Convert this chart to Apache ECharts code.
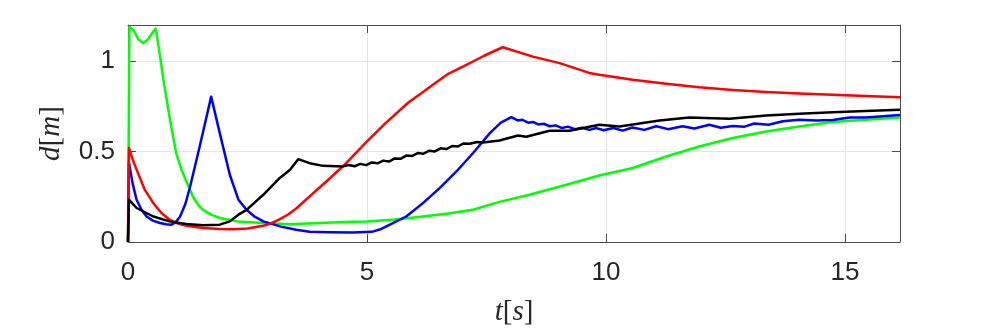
<!DOCTYPE html>
<html>
<head>
<meta charset="utf-8">
<script src="https://cdn.jsdelivr.net/npm/echarts@6/dist/echarts.min.js"></script>
<style>
  html, body { margin: 0; background: #fff; }
  #chart { width: 997px; height: 333px; }
</style>
</head>
<body>
<div id="chart"></div>
<script>
// axis ranges and tick labels
const xMax = 16.15;
const yMax = 1.2;
const xTicks = [0, 5, 10, 15];
const yTicks = [0, 0.5, 1];

// [t, d]
const green = [
  [0, 0], [0.03, 1.19], [0.12, 1.17], [0.22, 1.12], [0.32, 1.10], [0.42, 1.12],
  [0.52, 1.16], [0.58, 1.18], [0.67, 1.03], [0.74, 0.9], [0.88, 0.676], [1.01, 0.49],
  [1.12, 0.4], [1.23, 0.33], [1.36, 0.25], [1.47, 0.205], [1.57, 0.178], [1.75, 0.15],
  [1.92, 0.133], [2.29, 0.114], [2.82, 0.105],
  [3.39, 0.098], [3.9, 0.104], [4.5, 0.11], [5.0, 0.114], [5.6, 0.124], [6.17, 0.141],
  [6.7, 0.158], [7.22, 0.178], [7.77, 0.222], [8.4, 0.261], [9.17, 0.317], [9.86, 0.368],
  [10.56, 0.409], [11.26, 0.473], [11.95, 0.528], [12.65, 0.575], [13.35, 0.611],
  [14.04, 0.639], [14.74, 0.663], [15.43, 0.676], [16.15, 0.688]
];

const blue = [
  [0, 0], [0.02, 0.44], [0.1, 0.32], [0.18, 0.234], [0.28, 0.18], [0.39, 0.141], [0.52, 0.118],
  [0.67, 0.105], [0.8, 0.098], [0.91, 0.096], [1.0, 0.11],
  [1.09, 0.141], [1.2, 0.21], [1.3, 0.307], [1.5, 0.528], [1.74, 0.804], [1.92, 0.602], [2.13, 0.372],
  [2.31, 0.234], [2.48, 0.178], [2.65, 0.14], [2.83, 0.114], [3.2, 0.085], [3.52, 0.068], [3.8, 0.057],
  [4.22, 0.054], [4.7, 0.053], [5.1, 0.056], [5.3, 0.072], [5.48, 0.096], [5.82, 0.141],
  [6.17, 0.215], [6.52, 0.298], [6.87, 0.39], [7.22, 0.492], [7.57, 0.602], [7.8, 0.66],
  [8.02, 0.69], [8.15, 0.672], [8.25, 0.676], [8.37, 0.66], [8.47, 0.664], [8.58, 0.65],
  [8.7, 0.654], [8.82, 0.64], [8.95, 0.645], [9.08, 0.63], [9.2, 0.638], [9.35, 0.624],
  [9.5, 0.632], [9.65, 0.62], [9.8, 0.63], [9.95, 0.618], [10.15, 0.63], [10.35, 0.616],
  [10.55, 0.633], [10.8, 0.62], [11.05, 0.64], [11.3, 0.624], [11.6, 0.64], [11.85, 0.628],
  [12.16, 0.648], [12.4, 0.632], [12.65, 0.642], [12.9, 0.638], [13.1, 0.655], [13.4, 0.648],
  [13.7, 0.668], [14.04, 0.676], [14.4, 0.672], [14.74, 0.675], [15.1, 0.688], [15.43, 0.688],
  [15.8, 0.695], [16.15, 0.702]
];

const red = [
  [0, 0], [0.02, 0.52], [0.1, 0.455], [0.18, 0.40], [0.35, 0.29], [0.53, 0.215], [0.7, 0.16],
  [0.87, 0.123], [1.05, 0.102], [1.22, 0.09], [1.57, 0.077], [1.92, 0.072], [2.2, 0.07], [2.5, 0.075],
  [2.83, 0.09], [3.0, 0.104], [3.17, 0.125], [3.35, 0.152], [3.52, 0.185], [3.8, 0.252], [4.22, 0.351],
  [4.53, 0.427], [5.0, 0.556], [5.4, 0.66], [5.86, 0.77], [6.38, 0.869], [6.7, 0.93], [7.08, 0.98],
  [7.45, 1.03], [7.84, 1.077], [8.47, 1.025], [9.03, 0.989], [9.65, 0.935], [9.86, 0.925], [10.56, 0.897],
  [11.26, 0.875], [11.95, 0.856], [12.65, 0.841], [13.35, 0.83], [14.04, 0.821],
  [14.74, 0.814], [15.43, 0.807], [16.15, 0.801]
];

const black = [
  [0, 0], [0.02, 0.234], [0.18, 0.188], [0.53, 0.141], [0.87, 0.114], [1.22, 0.1],
  [1.57, 0.092], [1.92, 0.096], [2.13, 0.114], [2.31, 0.151], [2.48, 0.178], [2.83, 0.261],
  [3.17, 0.353], [3.39, 0.40], [3.56, 0.458], [3.8, 0.436], [4.08, 0.421], [4.5, 0.418],
  [4.62, 0.426], [4.74, 0.419], [4.86, 0.432], [4.98, 0.425], [5.1, 0.44], [5.22, 0.435],
  [5.34, 0.45], [5.46, 0.445], [5.58, 0.462], [5.7, 0.46], [5.82, 0.478], [5.94, 0.475],
  [6.06, 0.492], [6.18, 0.488], [6.3, 0.505], [6.42, 0.501], [6.54, 0.518], [6.66, 0.514],
  [6.78, 0.531], [6.9, 0.528], [7.02, 0.545], [7.15, 0.543], [7.3, 0.553], [7.43, 0.55],
  [7.6, 0.556], [7.77, 0.561], [8.16, 0.589], [8.33, 0.582], [8.82, 0.615], [9.24, 0.615],
  [9.86, 0.648], [10.28, 0.639], [11.12, 0.672], [11.74, 0.688], [12.58, 0.681],
  [13.35, 0.70], [14.04, 0.709], [14.74, 0.718], [15.43, 0.724], [16.15, 0.731]
];

const chart = echarts.init(document.getElementById('chart'));

const axisColor = '#4d4d4d';
const gridColor = '#e4e4e4';
const tickFont = { fontFamily: 'Liberation Sans, Arial, sans-serif', fontSize: 26, color: '#262626' };
const mathRich = {
  i: { fontFamily: 'Liberation Serif, serif', fontStyle: 'italic', fontSize: 29, color: '#262626' },
  n: { fontFamily: 'Liberation Serif, serif', fontSize: 29, color: '#262626' }
};

const line = (data, color) => ({
  type: 'line', data, showSymbol: false, symbol: 'none',
  lineStyle: { color, width: 2.5, join: 'round' }, itemStyle: { color }
});

// axis with a visible line and ticks pointing into the plot
const frameAxis = (extra) => ({
  type: 'value',
  axisLine: { show: true, onZero: false, lineStyle: { color: axisColor, width: 1 } },
  axisTick: { show: true, inside: true, length: 8, lineStyle: { color: axisColor } },
  ...extra
});

const option = {
  animation: false,
  grid: { left: 128, right: 97, top: 25, bottom: 91 },
  xAxis: [
    frameAxis({
      position: 'bottom', min: 0, max: xMax, interval: 5,
      splitLine: { show: true, lineStyle: { color: gridColor } },
      axisLabel: { ...tickFont, margin: 18, formatter: v => xTicks.includes(v) ? String(v) : '' },
      name: '{i|t}{n|[}{i|s}{n|]}', nameLocation: 'middle', nameGap: 56,
      nameTextStyle: { rich: mathRich }
    }),
    frameAxis({
      position: 'top', min: 0, max: xMax, interval: 5,
      axisLabel: { show: false }, splitLine: { show: false }
    })
  ],
  yAxis: [
    frameAxis({
      position: 'left', min: 0, max: yMax, interval: 0.5,
      splitLine: { show: true, lineStyle: { color: gridColor } },
      axisLabel: { ...tickFont, margin: 13, formatter: v => yTicks.includes(v) ? String(v) : '' },
      name: '{i|d}{n|[}{i|m}{n|]}', nameLocation: 'middle', nameGap: 62, nameRotate: 90,
      nameTextStyle: { rich: mathRich }
    }),
    frameAxis({
      position: 'right', min: 0, max: yMax, interval: 0.5,
      axisLabel: { show: false }, splitLine: { show: false }
    })
  ],
  series: [
    line(green, '#00ff00'),
    line(blue, '#0000ff'),
    line(red, '#ff0000'),
    line(black, '#000000')
  ]
};

chart.setOption(option);
</script>
</body>
</html>
